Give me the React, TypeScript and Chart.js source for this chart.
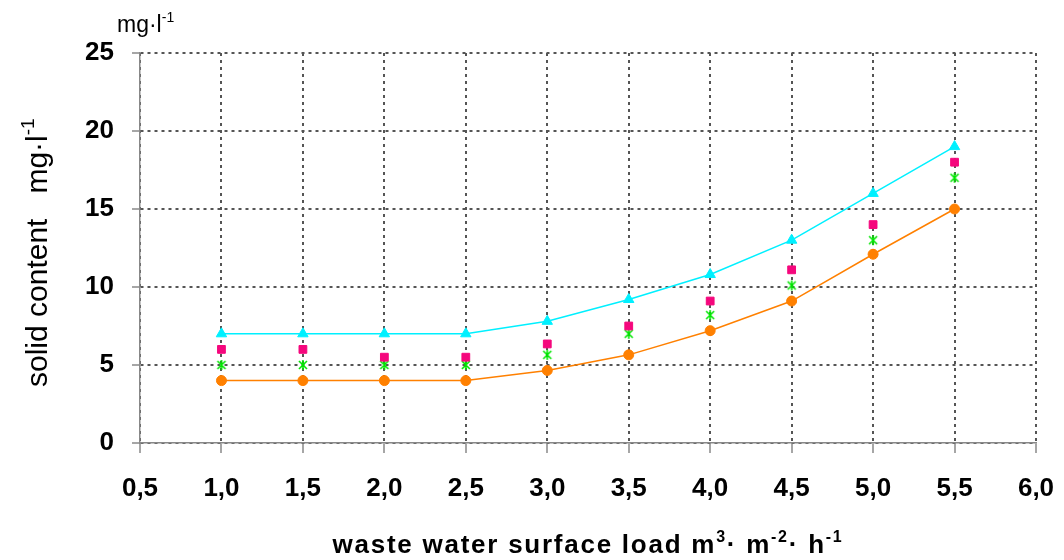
import React, { useEffect, useRef } from "react";
import { Chart, registerables } from "chart.js";

Chart.register(...registerables);

// waste water surface load (m3·m-2·h-1)
const loads = [1.0, 1.5, 2.0, 2.5, 3.0, 3.5, 4.0, 4.5, 5.0, 5.5];
// solid content (mg·l-1)
const upperSeries = [7, 7, 7, 7, 7.8, 9.2, 10.8, 13, 16, 19];
const squareSeries = [6, 6, 5.5, 5.5, 6.35, 7.5, 9.1, 11.1, 14, 18];
const starSeries = [5, 5, 5, 5, 5.65, 7, 8.2, 10.1, 13, 17];
const lowerSeries = [4, 4, 4, 4, 4.65, 5.65, 7.2, 9.1, 12.1, 15];

const xMin = 0.5;
const xMax = 6.0;
const xStep = 0.5;
const yMin = 0;
const yMax = 25;
const yStep = 5;

type Part = { text: string; sup?: boolean };

const xTitle: Part[] = [
  { text: "waste water surface load m" },
  { text: "3", sup: true },
  { text: "· m" },
  { text: "-2", sup: true },
  { text: "· h" },
  { text: "-1", sup: true },
];
const yTitle: Part[] = [
  { text: "solid content   mg·l" },
  { text: "-1", sup: true },
];
const unitLabel: Part[] = [{ text: "mg·l" }, { text: "-1", sup: true }];

const FAMILY = '"Liberation Sans", Arial, sans-serif';

function drawRich(
  ctx: CanvasRenderingContext2D,
  parts: Part[],
  x: number,
  y: number,
  size: number,
  weight: string,
  align: "left" | "center",
  spacing = "0px"
) {
  const main = `${weight} ${size}px ${FAMILY}`;
  const supF = `${weight} ${Math.round(size * 0.62)}px ${FAMILY}`;
  (ctx as any).letterSpacing = spacing;
  const widths = parts.map((p) => {
    ctx.font = p.sup ? supF : main;
    return ctx.measureText(p.text).width;
  });
  const total = widths.reduce((a, b) => a + b, 0);
  let cx = align === "center" ? x - total / 2 : x;
  ctx.textAlign = "left";
  ctx.textBaseline = "alphabetic";
  ctx.fillStyle = "#000";
  parts.forEach((p, i) => {
    ctx.font = p.sup ? supF : main;
    ctx.fillText(p.text, cx, p.sup ? y - size * 0.42 : y);
    cx += widths[i];
  });
  (ctx as any).letterSpacing = "0px";
}

function makeStar(color: string): HTMLCanvasElement {
  const c = document.createElement("canvas");
  c.width = 12;
  c.height = 12;
  const g = c.getContext("2d")!;
  g.strokeStyle = color;
  g.lineWidth = 1.6;
  g.beginPath();
  g.moveTo(2, 2);
  g.lineTo(10, 10);
  g.moveTo(10, 2);
  g.lineTo(2, 10);
  g.moveTo(6, 1);
  g.lineTo(6, 11);
  g.stroke();
  return c;
}

const titlesPlugin = {
  id: "titles",
  afterDraw(chart: any) {
    const ctx: CanvasRenderingContext2D = chart.ctx;
    const area = chart.chartArea;
    ctx.save();
    drawRich(ctx, xTitle, (area.left + area.right) / 2, 553, 26, "bold", "center", "1.75px");
    drawRich(ctx, unitLabel, 117, 32, 23, "normal", "left");
    ctx.translate(47, 387);
    ctx.rotate(-Math.PI / 2);
    drawRich(ctx, yTitle, 0, 0, 30, "normal", "left");
    ctx.restore();
  },
};

export default function App() {
  const ref = useRef<HTMLCanvasElement | null>(null);

  useEffect(() => {
    document.body.style.margin = "0";
    if (!ref.current) return;
    const pts = (arr: number[]) => loads.map((x, i) => ({ x, y: arr[i] }));
    const chart = new Chart(ref.current, {
      type: "scatter",
      data: {
        datasets: [
          {
            data: pts(upperSeries),
            showLine: true,
            borderColor: "#00f0ff",
            backgroundColor: "#00f0ff",
            borderWidth: 1.5,
            pointStyle: "triangle",
            pointRadius: 6,
            pointBorderWidth: 1,
          },
          {
            data: pts(squareSeries),
            showLine: false,
            borderColor: "#f5077d",
            backgroundColor: "#f5077d",
            pointStyle: "rect",
            pointRadius: 5.5,
            pointBorderWidth: 1,
          },
          {
            data: pts(starSeries),
            showLine: false,
            borderColor: "#00e600",
            backgroundColor: "#00e600",
            pointStyle: makeStar("#00e600") as any,
            pointRadius: 6,
          },
          {
            data: pts(lowerSeries),
            showLine: true,
            borderColor: "#ff8000",
            backgroundColor: "#ff8000",
            borderWidth: 1.5,
            pointStyle: "circle",
            pointRadius: 5,
            pointBorderWidth: 1,
          },
        ],
      },
      options: {
        animation: false,
        responsive: false,
        devicePixelRatio: 1,
        layout: { padding: { top: 53, right: 28, left: 0, bottom: 0 } },
        plugins: {
          legend: { display: false },
          tooltip: { enabled: false },
        },
        scales: {
          x: {
            type: "linear",
            min: xMin,
            max: xMax,
            afterFit: (s: any) => {
              s.height = 117;
              s.paddingLeft = 0;
              s.paddingRight = 0;
            },
            ticks: {
              stepSize: xStep,
              color: "#000",
              padding: 20,
              font: { family: FAMILY, size: 26, weight: "bold" },
              callback: (v: any) => Number(v).toFixed(1).replace(".", ","),
            },
            grid: {
              color: "#555",
              lineWidth: 2,
              drawTicks: true,
              tickLength: 10,
              tickColor: "#888",
              tickWidth: 1.5,
              tickBorderDash: [],
            } as any,
            border: { display: true, color: "#888", width: 1.5, dash: [3, 4] } as any,
          },
          y: {
            type: "linear",
            min: yMin,
            max: yMax,
            afterFit: (s: any) => {
              s.width = 140;
              s.paddingTop = 0;
              s.paddingBottom = 0;
            },
            ticks: {
              stepSize: yStep,
              color: "#000",
              padding: 18,
              font: { family: FAMILY, size: 26, weight: "bold" },
            },
            grid: {
              color: "#555",
              lineWidth: 2,
              drawTicks: true,
              tickLength: 8,
              tickColor: "#888",
              tickWidth: 1.5,
              tickBorderDash: [],
            } as any,
            border: { display: true, color: "#888", width: 1.5, dash: [3, 4] } as any,
          },
        },
      },
      plugins: [titlesPlugin],
    });
    return () => chart.destroy();
  }, []);

  return <canvas ref={ref} width={1064} height={560} style={{ display: "block" }} />;
}
